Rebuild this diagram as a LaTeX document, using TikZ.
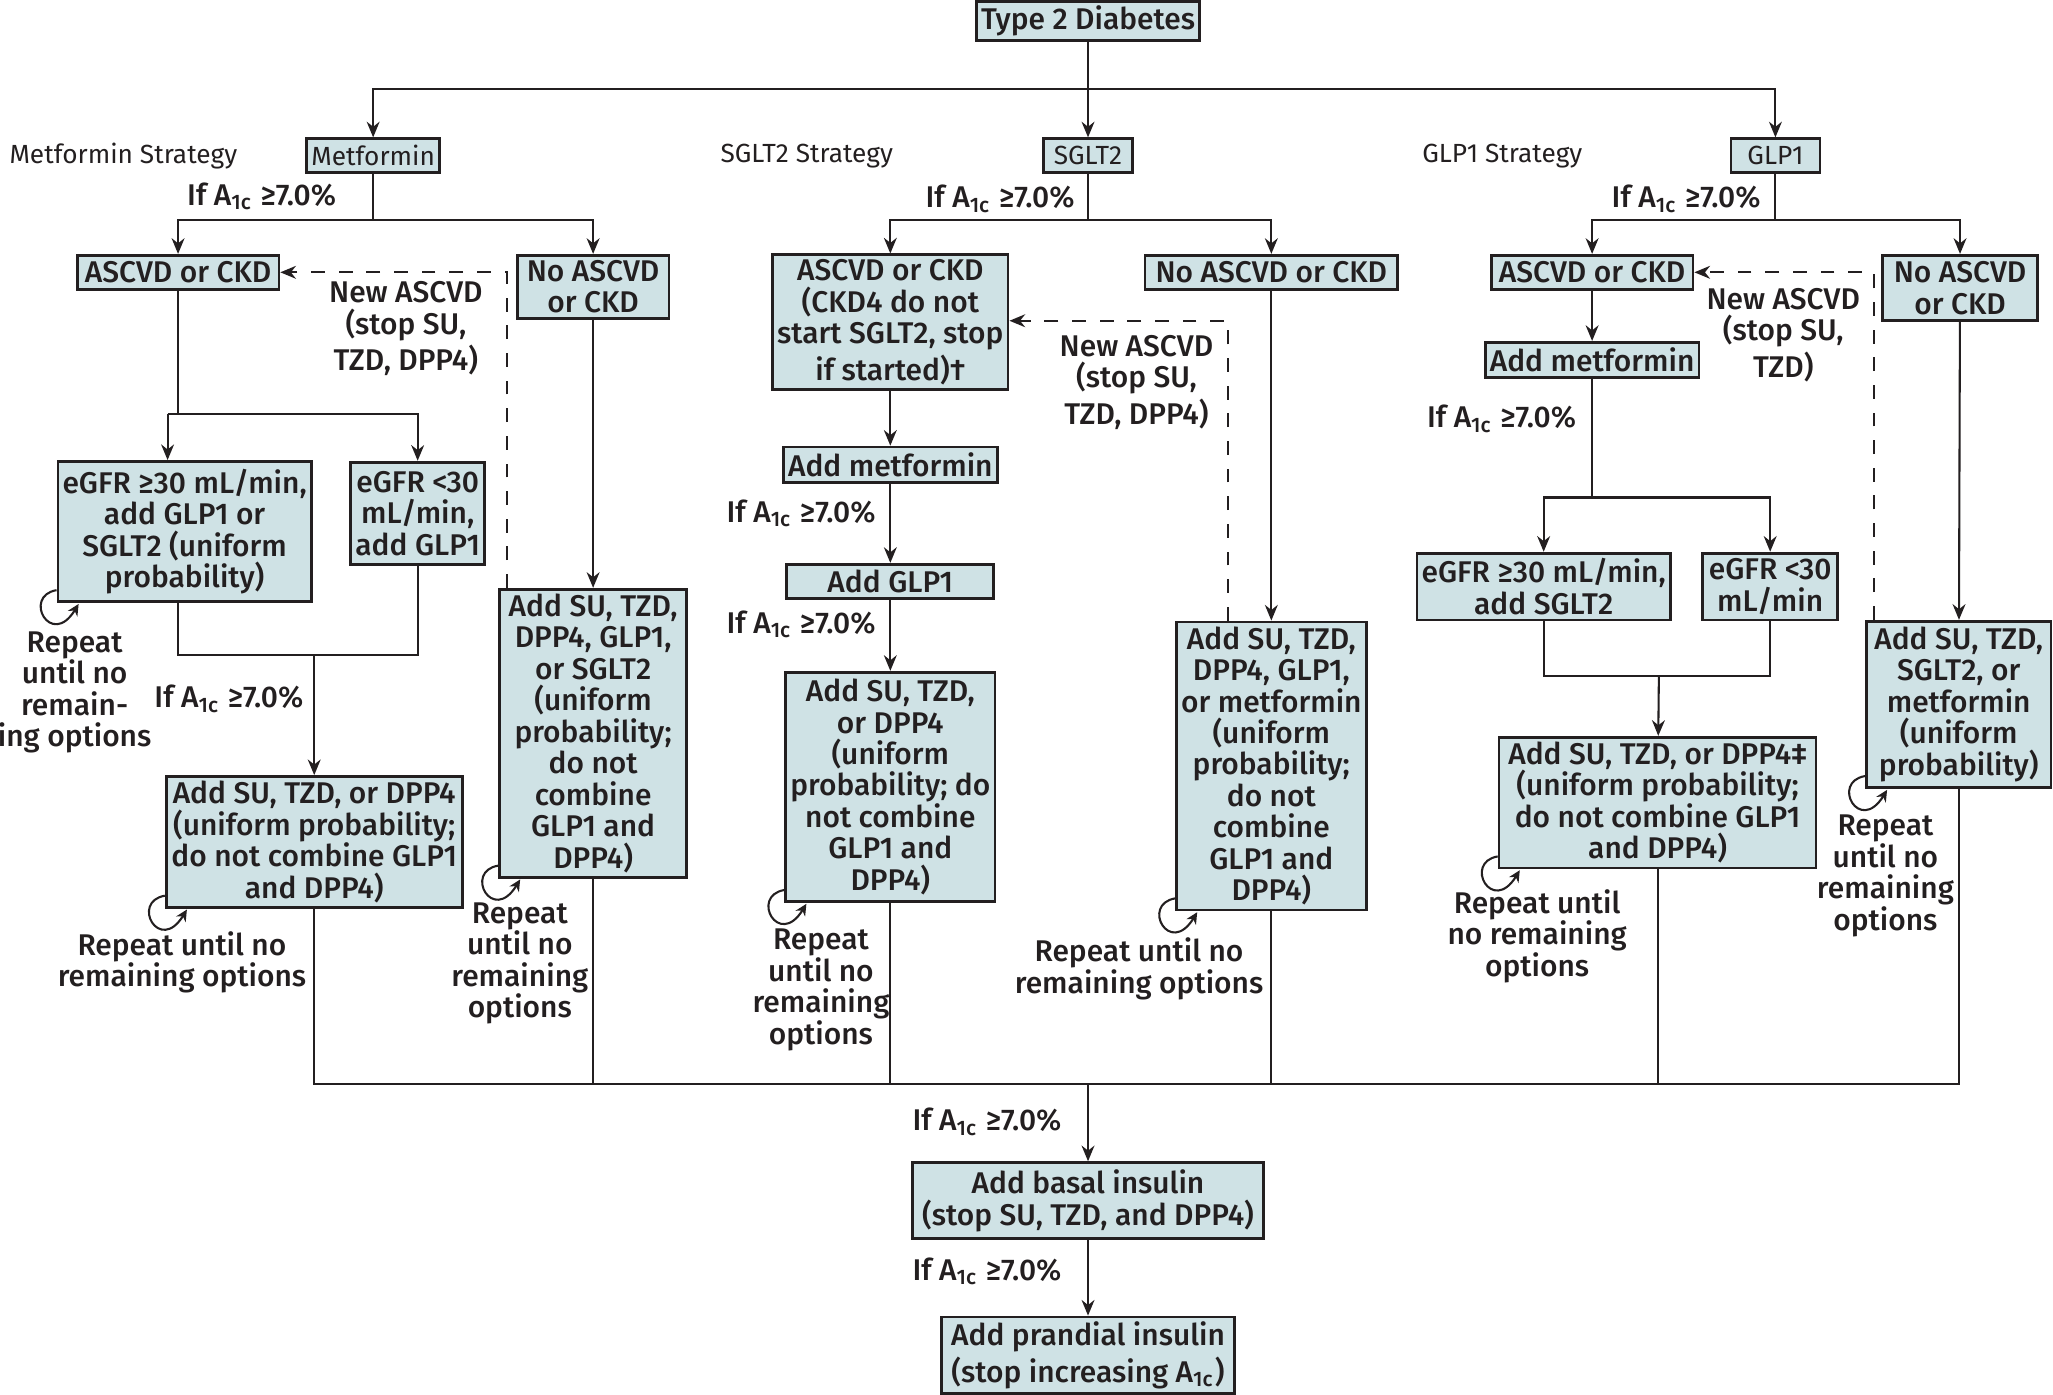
\documentclass[tikz,border=0pt]{standalone}
\usepackage{fontspec}
\setmainfont{Fira Sans}[BoldFont={Fira Sans Medium}]
\usepackage{tikz}
\usetikzlibrary{arrows.meta}
\definecolor{boxfill}{RGB}{207,226,229}
\definecolor{ink}{RGB}{35,31,32}
\newcommand{\Aic}{A\textsubscript{1c}}

\begin{document}
\begin{tikzpicture}[x=0.01cm,y=-0.01cm,ink,line width=0.45pt,
 every node/.style={font=\fontsize{6.5}{6.83}\selectfont\bfseries,text=ink,align=center,inner sep=1pt},
 box/.style={draw=ink,fill=boxfill,line width=0.6pt},
 strat/.style={font=\fontsize{5.7}{6.5}\selectfont,anchor=west},
 arr/.style={-{Stealth[length=3.4pt,width=2.8pt]}},
 loopar/.style={-{Stealth[length=2.5pt,width=2.4pt]}}]
 \useasboundingbox (0,0) rectangle (1568,1065);

 % top
 \node[box,minimum width=1.64cm,minimum height=0.30cm] (t2d) at (831,16) {Type 2 Diabetes};
 \node[box,font=\fontsize{5.7}{6.5}\selectfont,minimum width=0.99cm,minimum height=0.26cm] (met) at (285,119) {Metformin};
 \node[box,font=\fontsize{5.7}{6.5}\selectfont,minimum width=0.68cm,minimum height=0.26cm] (sglt) at (831,119) {SGLT2};
 \node[box,font=\fontsize{5.7}{6.5}\selectfont,minimum width=0.68cm,minimum height=0.26cm] (glp) at (1356,119) {GLP1};
 \node[strat] (mstrat) at (3,119) {Metformin Strategy};
 \node[strat] (sstrat) at (546,119) {SGLT2 Strategy};
 \node[strat] (gstrat) at (1082,119) {GLP1 Strategy};

 % metformin strategy
 \node[box,minimum width=1.54cm,minimum height=0.26cm] (mascvd) at (136,208) {ASCVD or CKD};
 \node[box,minimum width=1.16cm,minimum height=0.48cm] (mno) at (453,219) {No ASCVD\\or CKD};
 \node[box,minimum width=1.92cm,minimum height=1.07cm] (megfa) at (141,406) {eGFR ≥30 mL/min,\\add GLP1 or\\SGLT2 (uniform\\probability)};
 \node[box,minimum width=1.00cm,minimum height=0.78cm] (megfb) at (319,392) {eGFR <30\\mL/min,\\add GLP1};
 \node[box,minimum width=2.26cm,minimum height=0.99cm] (madd) at (240,643) {Add SU, TZD, or DPP4\\(uniform probability;\\do not combine GLP1\\and DPP4)};
 \node[box,minimum width=1.43cm,minimum height=2.19cm] (mnoadd) at (453,560) {Add SU, TZD,\\DPP4, GLP1,\\or SGLT2\\(uniform\\probability;\\do not\\combine\\GLP1 and\\DPP4)};
 \node[anchor=east] (mif1) at (261,150) {If \Aic{} ≥7.0\%};
 \node[anchor=east] (mif2) at (236,534) {If \Aic{} ≥7.0\%};
 \node (mnew) at (310,251) {New ASCVD\\(stop SU,\\TZD, DPP4)};
 \node (mrep1) at (57,529) {Repeat\\until no\\remain-\\ing options};
 \node (mrep2) at (139,735) {Repeat until no\\remaining options};
 \node (mrep3) at (397,736) {Repeat\\until no\\remaining\\options};

 % sglt2 strategy
 \node[box,minimum width=1.78cm,minimum height=1.01cm] (sascvd) at (680,246) {ASCVD or CKD\\(CKD4 do not\\start SGLT2, stop\\if started)†};
 \node[box,minimum width=1.93cm,minimum height=0.26cm] (sno) at (971,208) {No ASCVD or CKD};
 \node[box,minimum width=1.58cm,minimum height=0.27cm] (smet) at (680,355) {Add metformin};
 \node[box,minimum width=1.58cm,minimum height=0.26cm] (sglp) at (680,444) {Add GLP1};
 \node[box,minimum width=1.58cm,minimum height=1.75cm] (sadd) at (680,601) {Add SU, TZD,\\or DPP4\\(uniform\\probability; do\\not combine\\GLP1 and\\DPP4)};
 \node[box,minimum width=1.41cm,minimum height=2.19cm] (snoadd) at (971,585) {Add SU, TZD,\\DPP4, GLP1,\\or metformin\\(uniform\\probability;\\do not\\combine\\GLP1 and\\DPP4)};
 \node[anchor=east] (sif1) at (825,152) {If \Aic{} ≥7.0\%};
 \node[anchor=east] (sif2) at (673,392) {If \Aic{} ≥7.0\%};
 \node[anchor=east] (sif3) at (673,477) {If \Aic{} ≥7.0\%};
 \node (snew) at (868,292) {New ASCVD\\(stop SU,\\TZD, DPP4)};
 \node (srep1) at (627,756) {Repeat\\until no\\remaining\\options};
 \node (srep2) at (870,740) {Repeat until no\\remaining options};

 % glp1 strategy
 \node[box,minimum width=1.54cm,minimum height=0.26cm] (gascvd) at (1216,208) {ASCVD or CKD};
 \node[box,minimum width=1.18cm,minimum height=0.50cm] (gno) at (1497,220) {No ASCVD\\or CKD};
 \node[box,minimum width=1.60cm,minimum height=0.27cm] (gmet) at (1216,275) {Add metformin};
 \node[box,minimum width=1.90cm,minimum height=0.51cm] (gegfa) at (1179,448) {eGFR ≥30 mL/min,\\add SGLT2};
 \node[box,minimum width=1.03cm,minimum height=0.51cm] (gegfb) at (1352,448) {eGFR <30\\mL/min};
 \node[box,minimum width=2.42cm,minimum height=0.99cm] (gadd) at (1266,613) {Add SU, TZD, or DPP4‡\\(uniform probability;\\do not combine GLP1\\and DPP4)};
 \node[box,minimum width=1.41cm,minimum height=1.27cm] (gnoadd) at (1496,538) {Add SU, TZD,\\SGLT2, or\\metformin\\(uniform\\probability)};
 \node[anchor=east] (gif1) at (1349,152) {If \Aic{} ≥7.0\%};
 \node[anchor=east] (gif2) at (1208,320) {If \Aic{} ≥7.0\%};
 \node (gnew) at (1362,256) {New ASCVD\\(stop SU,\\TZD)};
 \node (grep1) at (1174,715) {Repeat until\\no remaining\\options};
 \node (grep2) at (1440,669) {Repeat\\until no\\remaining\\options};

 % insulin
 \node[box,minimum width=2.68cm,minimum height=0.58cm] (basal) at (831,917) {Add basal insulin\\(stop SU, TZD, and DPP4)};
 \node[box,minimum width=2.24cm,minimum height=0.58cm] (prand) at (831,1035) {Add prandial insulin\\(stop increasing \Aic)};
 \node[anchor=east] (bif1) at (815,857) {If \Aic{} ≥7.0\%};
 \node[anchor=east] (bif2) at (815,971) {If \Aic{} ≥7.0\%};

 % junctions
 \coordinate (top) at (831,68);
 \coordinate (mj) at (285,168);
 \coordinate (mka) at (128,316);
 \coordinate (mkc) at (136,500);
 \coordinate (mkb) at (240,500);
 \coordinate (mdash) at (387,208);
 \coordinate (sj) at (831,168);
 \coordinate (sdash) at (938,245);
 \coordinate (gj) at (1356,168);
 \coordinate (gk) at (1216,380);
 \coordinate (gm) at (1267,516);
 \coordinate (gdash) at (1431,208);
 \coordinate (bot) at (831,828);

 \draw[arr] (t2d) -- (sglt);
 \draw[arr] (top) -| (met);
 \draw[arr] (top) -| (glp);

 \draw (met) -- (mj);
 \draw[arr] (mj) -| (mascvd);
 \draw[arr] (mj) -| (mno);
 \draw (mascvd) |- (mka);
 \draw[arr] (mka) -- (megfa.north -| mka);
 \draw[arr] (mka) -| (megfb);
 \draw (megfa.south -| mkc) -- (mkc) -| (megfb);
 \draw[arr] (mkb) -- (madd);
 \draw[arr] (mno) -- (mnoadd);
 \draw[dashed,arr] (mnoadd.north -| mdash) -- (mdash) -- (mascvd);

 \draw (sglt) -- (sj);
 \draw[arr] (sj) -| (sascvd);
 \draw[arr] (sj) -| (sno);
 \draw[arr] (sascvd) -- (smet);
 \draw[arr] (smet) -- (sglp);
 \draw[arr] (sglp) -- (sadd);
 \draw[arr] (sno) -- (snoadd);
 \draw[dashed,arr] (snoadd.north -| sdash) -- (sdash) -- (sascvd.east |- sdash);

 \draw (glp) -- (gj);
 \draw[arr] (gj) -| (gascvd);
 \draw[arr] (gj) -| (gno);
 \draw[arr] (gascvd) -- (gmet);
 \draw (gmet) -- (gk);
 \draw[arr] (gk) -| (gegfa);
 \draw[arr] (gk) -| (gegfb);
 \draw (gegfa) |- (gm);
 \draw (gegfb) |- (gm);
 \draw[arr] (gm) -- (gadd);
 \draw[arr] (gno) -- (gnoadd);
 \draw[dashed,arr] (gnoadd.north -| gdash) -- (gdash) -- (gascvd);

 \draw (madd) |- (bot);
 \draw (gnoadd) |- (bot);
 \draw (mnoadd) -- (mnoadd |- bot);
 \draw (sadd) -- (sadd |- bot);
 \draw (snoadd) -- (snoadd |- bot);
 \draw (gadd) -- (gadd |- bot);
 \draw[arr] (bot) -- (basal);
 \draw[arr] (basal) -- (prand);

 % repeat loops
 \foreach \b in {megfa,madd,mnoadd,sadd,snoadd,gadd,gnoadd}
  \draw[loopar] ([yshift=2.8pt]\b.south west) .. controls +(-7.5pt,-1.3pt) and +(-6pt,-9.8pt) .. ([xshift=4.8pt,yshift=-0.2pt]\b.south west);
\end{tikzpicture}
\end{document}
